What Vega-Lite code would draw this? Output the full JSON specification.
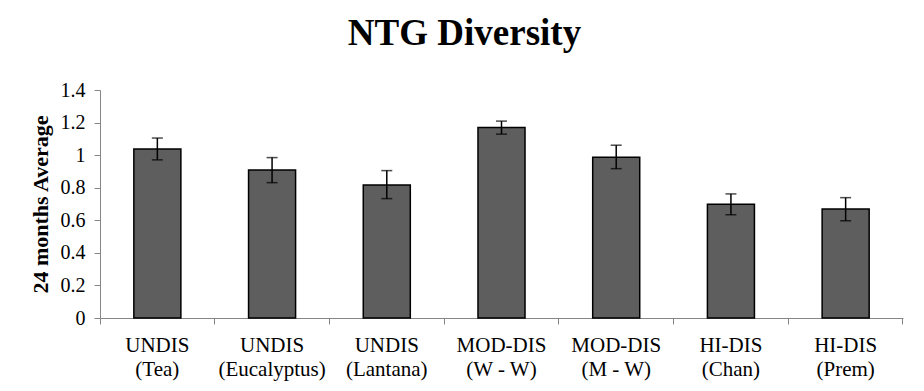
{
  "$schema": "https://vega.github.io/schema/vega-lite/v6.json",
  "autosize": {"type": "none"},
  "width": 803,
  "height": 228,
  "padding": {"left": 100, "top": 90, "right": 21, "bottom": 73},
  "background": "white",
  "config": {
    "view": {"stroke": null},
    "font": "Liberation Serif",
    "axisY": {
      "titleFont": "Liberation Serif",
      "titleFontSize": 22,
      "titleFontWeight": "bold",
      "titleColor": "black",
      "titleX": -60,
      "titleAngle": -90,
      "titleBaseline": "middle",
      "titleAlign": "center",
      "labelFont": "Liberation Serif",
      "labelFontSize": 20,
      "labelColor": "black",
      "labelPadding": 9,
      "labelOverlap": false,
      "labelFlush": false,
      "labelBound": false,
      "grid": false,
      "domainColor": "#868686",
      "tickColor": "#868686",
      "tickSize": 6
    }
  },
  "title": {
    "text": "NTG Diversity",
    "font": "Liberation Serif",
    "fontSize": 37,
    "fontWeight": "bold",
    "color": "black",
    "anchor": "middle",
    "dx": -37,
    "offset": 27
  },
  "data": {
    "values": [
      {"group": "UNDIS (Tea)", "mean": 1.038, "lo": 0.971, "hi": 1.105},
      {"group": "UNDIS (Eucalyptus)", "mean": 0.909, "lo": 0.831, "hi": 0.985},
      {"group": "UNDIS (Lantana)", "mean": 0.817, "lo": 0.733, "hi": 0.905},
      {"group": "MOD-DIS (W - W)", "mean": 1.169, "lo": 1.129, "hi": 1.209},
      {"group": "MOD-DIS (M - W)", "mean": 0.987, "lo": 0.917, "hi": 1.061},
      {"group": "HI-DIS (Chan)", "mean": 0.698, "lo": 0.634, "hi": 0.762},
      {"group": "HI-DIS (Prem)", "mean": 0.669, "lo": 0.597, "hi": 0.739}
    ]
  },
  "encoding": {
    "x": {
      "field": "group",
      "type": "nominal",
      "sort": null,
      "scale": {"paddingInner": 0, "paddingOuter": 0},
      "axis": {
        "title": null,
        "labelAngle": 0,
        "labelFont": "Liberation Serif",
        "labelFontSize": 21,
        "labelColor": "black",
        "labelLineHeight": 24,
        "labelPadding": 10,
        "labelOverlap": false,
        "labelBound": false,
        "labelExpr": "isString(datum.value) ? [split(datum.value, ' (')[0], '(' + split(datum.value, ' (')[1]] : ''",
        "domainColor": "#868686",
        "domainWidth": 1,
        "tickColor": "#868686",
        "tickSize": 6,
        "bandPosition": 1,
        "tickExtra": true
      }
    }
  },
  "layer": [
    {
      "mark": {"type": "bar", "width": {"band": 0.41}, "fill": "#5e5e5e", "stroke": "black", "strokeWidth": 1.5},
      "encoding": {
        "y": {
          "field": "mean",
          "type": "quantitative",
          "scale": {"domain": [0, 1.4], "nice": false},
          "axis": {"title": "24 months Average", "values": [0, 0.2, 0.4, 0.6, 0.8, 1, 1.2, 1.4], "format": "~g"}
        }
      }
    },
    {
      "mark": {"type": "rule", "color": "black", "strokeWidth": 1.5},
      "encoding": {
        "y": {"field": "lo", "type": "quantitative", "axis": {"title": "24 months Average", "values": [0, 0.2, 0.4, 0.6, 0.8, 1, 1.2, 1.4], "format": "~g"}},
        "y2": {"field": "hi"}
      }
    },
    {
      "mark": {"type": "tick", "color": "black", "thickness": 1.5, "size": 11},
      "encoding": {"y": {"field": "lo", "type": "quantitative", "axis": {"title": "24 months Average", "values": [0, 0.2, 0.4, 0.6, 0.8, 1, 1.2, 1.4], "format": "~g"}}}
    },
    {
      "mark": {"type": "tick", "color": "black", "thickness": 1.5, "size": 11},
      "encoding": {"y": {"field": "hi", "type": "quantitative", "axis": {"title": "24 months Average", "values": [0, 0.2, 0.4, 0.6, 0.8, 1, 1.2, 1.4], "format": "~g"}}}
    }
  ]
}
